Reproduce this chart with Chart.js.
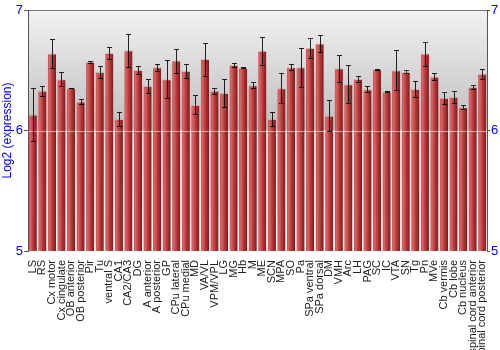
<!DOCTYPE html>
<html>
<head>
<meta charset="utf-8">
<script src="https://cdn.jsdelivr.net/npm/chart.js@4/dist/chart.umd.min.js"></script>
<style>
  html, body { margin: 0; padding: 0; background: #fff; }
  #wrap { width: 500px; height: 350px; }
</style>
</head>
<body>
<div id="wrap"><canvas id="chart"></canvas></div>
<script>
// Brain regions on the x axis
const regions = ['LS', 'RS', 'Cx motor', 'Cx cingulate', 'OB anterior', 'OB posterior', 'Pir', 'Tu',
  'ventral S', 'CA1', 'CA2/CA3', 'DG', 'A anterior', 'A posterior', 'GP', 'CPu lateral', 'CPu medial',
  'MD', 'VA/VL', 'VPM/VPL', 'LG', 'MG', 'Hb', 'M', 'ME', 'SCN', 'MPA', 'SO', 'Pa', 'SPa ventral',
  'SPa dorsal', 'DM', 'VMH', 'Arc', 'LH', 'PAG', 'SC', 'IC', 'VTA', 'SN', 'Tg', 'Pn', 'MVe',
  'Cb vermis', 'Cb lobe', 'Cb nucleus', 'spinal cord anterior', 'spinal cord posterior'];

// Log2 expression per region
const expression = [6.13, 6.33, 6.64, 6.425, 6.353, 6.24, 6.57, 6.485,
  6.643, 6.095, 6.665, 6.502, 6.37, 6.524, 6.425, 6.58, 6.494,
  6.212, 6.593, 6.33, 6.311, 6.544, 6.521, 6.375, 6.662, 6.095, 6.35, 6.524, 6.524, 6.685,
  6.723, 6.123, 6.516, 6.383, 6.427, 6.342, 6.508, 6.322, 6.5, 6.486, 6.345, 6.638, 6.447,
  6.27, 6.278, 6.193, 6.361, 6.471];

// Error (+/-) per region
const errors = [0.22, 0.04, 0.12, 0.057, 0.003, 0.02, 0.006, 0.05,
  0.05, 0.06, 0.137, 0.03, 0.058, 0.028, 0.157, 0.1, 0.062,
  0.079, 0.137, 0.025, 0.118, 0.02, 0.002, 0.025, 0.115, 0.055, 0.125, 0.026, 0.16, 0.083,
  0.07, 0.13, 0.11, 0.157, 0.028, 0.026, 0.005, 0.004, 0.167, 0.012, 0.068, 0.1, 0.03,
  0.05, 0.046, 0.018, 0.015, 0.043];

const yTicks = [5, 6, 7];

const BLUE = '#0000ff';
const BAR_PCT = 0.86;

// shaded background of the plot area
const backgroundPlugin = {
  id: 'plotBackground',
  beforeDraw(chart) {
    const { ctx, chartArea: a, scales } = chart;
    const y6 = scales.y.getPixelForValue(6);
    ctx.save();
    let g = ctx.createLinearGradient(0, a.top, 0, y6);
    g.addColorStop(0, '#f2f2f2');
    g.addColorStop(1, '#bdbdbd');
    ctx.fillStyle = g;
    ctx.fillRect(a.left, a.top, a.right - a.left, y6 - a.top);
    g = ctx.createLinearGradient(0, y6, 0, a.bottom);
    g.addColorStop(0, '#e6e6e6');
    g.addColorStop(1, '#f8f8f8');
    ctx.fillStyle = g;
    ctx.fillRect(a.left, y6, a.right - a.left, a.bottom - y6);
    // top frame line
    ctx.strokeStyle = '#777';
    ctx.lineWidth = 1;
    ctx.beginPath();
    ctx.moveTo(a.left, a.top + 0.5);
    ctx.lineTo(a.right, a.top + 0.5);
    ctx.stroke();
    ctx.restore();
  }
};

// error bars plus the light grid line over the bars
const errorBarPlugin = {
  id: 'errorBars',
  afterDatasetsDraw(chart) {
    const { ctx, chartArea: a, scales } = chart;
    const meta = chart.getDatasetMeta(0);
    ctx.save();
    const y6 = Math.round(scales.y.getPixelForValue(6)) + 0.5;
    ctx.strokeStyle = 'rgba(255,255,255,0.55)';
    ctx.lineWidth = 1;
    ctx.beginPath();
    ctx.moveTo(a.left, y6);
    ctx.lineTo(a.right, y6);
    ctx.stroke();

    ctx.strokeStyle = 'rgba(0,0,0,0.85)';
    meta.data.forEach((bar, i) => {
      const x = Math.round(bar.x) + 0.5;
      const hi = Math.round(scales.y.getPixelForValue(expression[i] + errors[i])) + 0.5;
      const lo = Math.round(scales.y.getPixelForValue(expression[i] - errors[i])) + 0.5;
      ctx.beginPath();
      ctx.moveTo(x, hi);
      ctx.lineTo(x, lo);
      ctx.moveTo(x - 2.5, hi);
      ctx.lineTo(x + 2.5, hi);
      ctx.moveTo(x - 2.5, lo);
      ctx.lineTo(x + 2.5, lo);
      ctx.stroke();
    });
    ctx.restore();
  }
};

// horizontal shading so each bar looks rounded
function barGradient(context) {
  const chart = context.chart;
  const xs = chart.scales.x;
  if (!chart.chartArea || !xs) return '#b03535';
  const cx = xs.getPixelForValue(context.dataIndex);
  const w = (chart.chartArea.right - chart.chartArea.left) / regions.length * BAR_PCT;
  if (!isFinite(cx)) return '#b03535';
  const g = chart.ctx.createLinearGradient(cx - w / 2, 0, cx + w / 2, 0);
  g.addColorStop(0, '#c85050');
  g.addColorStop(0.2, '#d86565');
  g.addColorStop(0.55, '#b83838');
  g.addColorStop(1, '#7c1a1a');
  return g;
}

new Chart(document.getElementById('chart'), {
  type: 'bar',
  data: {
    labels: regions,
    datasets: [{
      data: expression,
      backgroundColor: barGradient,
      borderColor: 'rgba(200,160,160,0.6)',
      borderWidth: { top: 1, left: 0, right: 0, bottom: 0 },
      barPercentage: BAR_PCT,
      categoryPercentage: 1.0
    }]
  },
  options: {
    responsive: true,
    maintainAspectRatio: false,
    animation: false,
    layout: { padding: { top: 10, left: 0, right: 0, bottom: 0 } },
    plugins: {
      legend: { display: false },
      tooltip: { enabled: false }
    },
    scales: {
      x: {
        offset: true,
        grid: { display: false },
        border: { display: false },
        ticks: {
          autoSkip: false,
          maxRotation: 90,
          minRotation: 90,
          padding: 1,
          color: '#222',
          font: { family: 'Liberation Sans, Arial, sans-serif', size: 11 }
        },
        afterFit(scale) { scale.height = 99; }
      },
      y: {
        position: 'left',
        min: 5,
        max: 7,
        afterBuildTicks(scale) { scale.ticks = yTicks.map(v => ({ value: v })); },
        border: { display: true, color: '#555' },
        grid: { drawOnChartArea: false, tickLength: 4, color: '#555' },
        ticks: {
          color: BLUE,
          padding: 1,
          font: { family: 'Liberation Sans, Arial, sans-serif', size: 13 }
        },
        title: {
          display: true,
          text: 'Log2 (expression)',
          color: BLUE,
          padding: 0,
          font: { family: 'Liberation Sans, Arial, sans-serif', size: 12 }
        },
        afterFit(scale) { scale.width = 28; }
      },
      y2: {
        position: 'right',
        min: 5,
        max: 7,
        afterBuildTicks(scale) { scale.ticks = yTicks.map(v => ({ value: v })); },
        border: { display: true, color: '#555' },
        grid: { drawOnChartArea: false, tickLength: 3, color: '#555' },
        ticks: {
          color: BLUE,
          padding: 1,
          font: { family: 'Liberation Sans, Arial, sans-serif', size: 13 }
        },
        afterFit(scale) { scale.width = 13; }
      }
    }
  },
  plugins: [backgroundPlugin, errorBarPlugin]
});
</script>
</body>
</html>
